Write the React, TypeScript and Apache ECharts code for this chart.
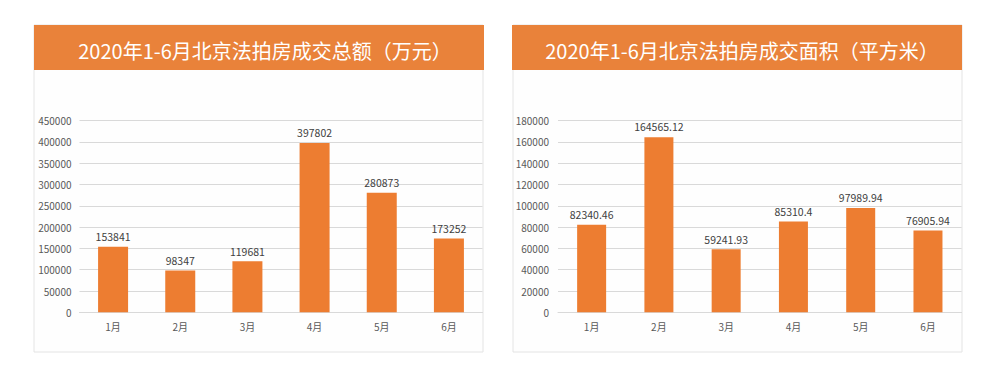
import React, { useEffect, useRef } from "react";
import * as echarts from "echarts";

const months = ["1月", "2月", "3月", "4月", "5月", "6月"];
const amountValues = [153841, 98347, 119681, 397802, 280873, 173252];
const areaValues = [82340.46, 164565.12, 59241.93, 85310.4, 97989.94, 76905.94];
const titleLeft = "2020年1-6月北京法拍房成交总额（万元）";
const titleRight = "2020年1-6月北京法拍房成交面积（平方米）";

const FONT = '"Noto Sans CJK SC", "Noto Sans", sans-serif';
const HEADER = "#E9823A";
const BAR = "#ED7D31";

export default function App() {
  const ref = useRef<HTMLDivElement>(null);
  useEffect(() => {
    if (!ref.current) return;
    const chart = echarts.init(ref.current, undefined, { renderer: "svg" });
    const yAxisCommon = {
      type: "value" as const,
      min: 0,
      axisLine: { show: false },
      axisTick: { show: false },
      axisLabel: { color: "#595959", fontSize: 10, fontFamily: FONT, margin: 8, formatter: (v: number) => String(v) },
      splitLine: { lineStyle: { color: "#d9d9d9", width: 1 } },
    };
    const xAxisCommon = {
      type: "category" as const,
      data: months,
      axisLine: { lineStyle: { color: "#d9d9d9" } },
      axisTick: { show: false },
      axisLabel: { color: "#595959", fontSize: 10, fontFamily: FONT, margin: 9 },
    };
    const labelCommon = {
      show: true,
      position: "top" as const,
      distance: 5,
      color: "#404040",
      fontSize: 10.5,
      fontFamily: FONT,
    };
    chart.setOption({
      animation: false,
      backgroundColor: "#ffffff",
      graphic: [
        { type: "rect", z: -10, shape: { x: 34, y: 25, width: 449, height: 327 }, style: { fill: "#fefefe", stroke: "#e4e4e4", lineWidth: 1 } },
        { type: "rect", z: -10, shape: { x: 513, y: 25, width: 449, height: 327 }, style: { fill: "#fefefe", stroke: "#e4e4e4", lineWidth: 1 } },
        { type: "rect", z: -9, shape: { x: 34, y: 25, width: 450, height: 45 }, style: { fill: HEADER } },
        { type: "rect", z: -9, shape: { x: 512, y: 25, width: 450, height: 45 }, style: { fill: HEADER } },
      ],
      title: [
        { text: titleLeft, left: 260, top: 35, textAlign: "center", textStyle: { color: "#ffffff", fontSize: 20, fontWeight: "normal", fontFamily: FONT } },
        { text: titleRight, left: 737, top: 35, textAlign: "center", textStyle: { color: "#ffffff", fontSize: 20, fontWeight: "normal", fontFamily: FONT } },
      ],
      grid: [
        { left: 79.5, right: 513.5, top: 120.7, bottom: 70.7 },
        { left: 558, right: 34.4, top: 120.7, bottom: 70.7 },
      ],
      xAxis: [
        { ...xAxisCommon, gridIndex: 0 },
        { ...xAxisCommon, gridIndex: 1 },
      ],
      yAxis: [
        { ...yAxisCommon, gridIndex: 0, max: 450000, interval: 50000 },
        { ...yAxisCommon, gridIndex: 1, max: 180000, interval: 20000, axisLabel: { ...yAxisCommon.axisLabel, margin: 9 } },
      ],
      series: [
        { type: "bar", xAxisIndex: 0, yAxisIndex: 0, data: amountValues, barWidth: 30, itemStyle: { color: BAR }, label: labelCommon },
        { type: "bar", xAxisIndex: 1, yAxisIndex: 1, data: areaValues, barWidth: 29, itemStyle: { color: BAR }, label: labelCommon },
      ],
    });
    return () => chart.dispose();
  }, []);
  return <div ref={ref} style={{ position: "fixed", left: 0, top: 0, width: 996, height: 383 }} />;
}
